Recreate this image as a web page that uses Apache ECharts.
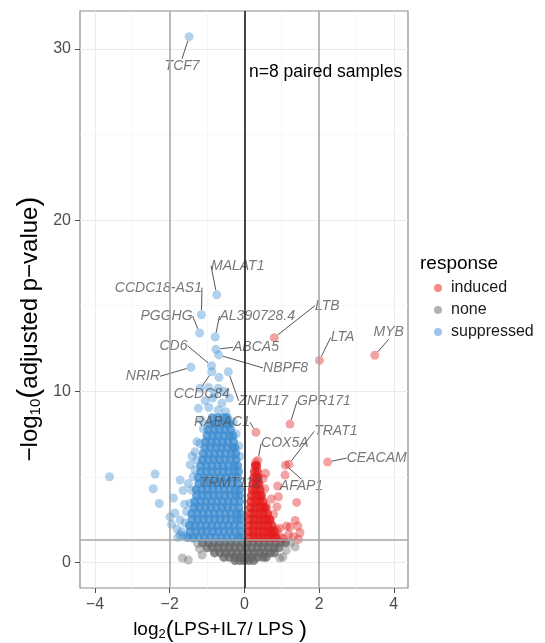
<!DOCTYPE html>
<html>
<head>
<meta charset="utf-8">
<script src="https://cdn.jsdelivr.net/npm/echarts@6/dist/echarts.min.js"></script>
<style>
  html, body { margin: 0; padding: 0; background: #ffffff; }
  #chart { width: 545px; height: 643px; }
</style>
</head>
<body>
<div id="chart"></div>
<script>
// ---- axis ticks and cut-offs ----
const xTicks = [-4, -2, 0, 2, 4];
const xMinorTicks = [-3, -1, 1, 3];
const yTicks = [0, 10, 20, 30];
const yMinorTicks = [5, 15, 25];
const foldCutoffs = [-2, 2];
const pCutoff = 1.3;            // -log10(0.05)

// ---- genes: log2 fold change, -log10 adjusted p ----
// suppressed, dense body of the cloud
const suppressedDense = [
  [-1.52,1.45],[-1.37,1.45],[-1.22,1.45],[-1.07,1.45],[-0.92,1.45],[-0.77,1.45],[-0.62,1.45],[-0.47,1.45],[-0.32,1.45],[-0.17,1.45],[-0.10,1.45],
  [-1.45,1.80],[-1.30,1.80],[-1.15,1.80],[-1.00,1.80],[-0.85,1.80],[-0.70,1.80],[-0.55,1.80],[-0.40,1.80],[-0.25,1.80],[-0.10,1.80],
  [-1.47,2.15],[-1.32,2.15],[-1.17,2.15],[-1.02,2.15],[-0.87,2.15],[-0.72,2.15],[-0.57,2.15],[-0.42,2.15],[-0.27,2.15],[-0.12,2.15],
  [-1.40,2.50],[-1.25,2.50],[-1.10,2.50],[-0.95,2.50],[-0.80,2.50],[-0.65,2.50],[-0.50,2.50],[-0.35,2.50],[-0.20,2.50],[-0.11,2.50],
  [-1.41,2.85],[-1.26,2.85],[-1.11,2.85],[-0.96,2.85],[-0.81,2.85],[-0.66,2.85],[-0.51,2.85],[-0.36,2.85],[-0.21,2.85],[-0.11,2.85],
  [-1.35,3.20],[-1.20,3.20],[-1.05,3.20],[-0.90,3.20],[-0.75,3.20],[-0.60,3.20],[-0.45,3.20],[-0.30,3.20],[-0.15,3.20],
  [-1.33,3.55],[-1.18,3.55],[-1.03,3.55],[-0.88,3.55],[-0.73,3.55],[-0.58,3.55],[-0.43,3.55],[-0.28,3.55],[-0.13,3.55],
  [-1.28,3.90],[-1.13,3.90],[-0.98,3.90],[-0.83,3.90],[-0.68,3.90],[-0.53,3.90],[-0.38,3.90],[-0.23,3.90],[-0.13,3.90],
  [-1.29,4.25],[-1.14,4.25],[-0.99,4.25],[-0.84,4.25],[-0.69,4.25],[-0.54,4.25],[-0.39,4.25],[-0.24,4.25],[-0.13,4.25],
  [-1.22,4.60],[-1.07,4.60],[-0.92,4.60],[-0.77,4.60],[-0.62,4.60],[-0.47,4.60],[-0.32,4.60],[-0.17,4.60],
  [-1.23,4.95],[-1.08,4.95],[-0.93,4.95],[-0.78,4.95],[-0.63,4.95],[-0.48,4.95],[-0.33,4.95],[-0.18,4.95],
  [-1.17,5.30],[-1.02,5.30],[-0.87,5.30],[-0.72,5.30],[-0.57,5.30],[-0.42,5.30],[-0.27,5.30],[-0.16,5.30],
  [-1.17,5.65],[-1.02,5.65],[-0.87,5.65],[-0.72,5.65],[-0.57,5.65],[-0.42,5.65],[-0.27,5.65],[-0.18,5.65],
  [-1.12,6.00],[-0.97,6.00],[-0.82,6.00],[-0.67,6.00],[-0.52,6.00],[-0.37,6.00],[-0.22,6.00],
  [-1.10,6.35],[-0.95,6.35],[-0.80,6.35],[-0.65,6.35],[-0.50,6.35],[-0.35,6.35],[-0.23,6.35],
  [-1.06,6.70],[-0.91,6.70],[-0.76,6.70],[-0.61,6.70],[-0.46,6.70],[-0.31,6.70],[-0.25,6.70],
  [-1.04,7.05],[-0.89,7.05],[-0.74,7.05],[-0.59,7.05],[-0.44,7.05],[-0.29,7.05],
  [-1.00,7.40],[-0.85,7.40],[-0.70,7.40],[-0.55,7.40],[-0.40,7.40],[-0.31,7.40],
  [-0.97,7.75],[-0.82,7.75],[-0.67,7.75],[-0.52,7.75],[-0.37,7.75],
  [-0.92,8.10],[-0.77,8.10],[-0.62,8.10],[-0.47,8.10],[-0.40,8.10],
  [-0.86,8.45],[-0.71,8.45],[-0.56,8.45],[-0.46,8.45]
];
// suppressed, scattered around the body
const suppressedSparse = [
  [-3.61,5.00],[-2.39,5.16],[-2.44,4.30],[-2.28,3.44],[-1.99,2.66],[-1.95,2.22],[-1.86,2.88],
  [-1.72,4.81],[-1.64,4.20],[-1.90,3.76],[-1.72,2.47],[-1.68,1.79],[-1.72,1.60],[-1.45,3.46],
  [-1.41,4.23],[-1.37,5.00],[-1.32,5.39],[-1.27,5.98],[-1.32,6.46],[-1.27,7.05],[-1.19,6.95],
  [-1.55,2.95],[-1.60,3.40],[-1.58,2.30],[-1.80,1.95],[-1.78,1.45],[-1.62,1.55],[-1.50,4.60],
  [-1.45,5.70],[-1.40,6.20],[-1.37,1.40],[-1.15,8.30],[-1.10,7.80],[-0.30,8.20],[-0.22,7.50],
  [-0.15,6.80],[-0.12,6.20],[-1.23,9.00],[-0.70,8.90],[-1.05,9.45],[-0.85,9.60],[-0.60,9.30],
  [-0.95,9.05],[-0.50,8.80],[-0.40,9.60],[-1.19,10.17],[-0.70,10.17],[-0.96,10.22],[-0.55,10.00],
  [-0.68,10.81],[-0.80,9.85]
];
const inducedDense = [
  [0.14,1.45],[0.26,1.45],[0.38,1.45],[0.50,1.45],[0.62,1.45],[0.74,1.45],[0.85,1.45],
  [0.13,1.80],[0.25,1.80],[0.37,1.80],[0.49,1.80],[0.61,1.80],[0.72,1.80],[0.80,1.80],
  [0.14,2.15],[0.26,2.15],[0.38,2.15],[0.50,2.15],[0.62,2.15],[0.74,2.15],
  [0.14,2.50],[0.26,2.50],[0.38,2.50],[0.50,2.50],[0.60,2.50],[0.68,2.50],
  [0.15,2.85],[0.27,2.85],[0.39,2.85],[0.51,2.85],[0.62,2.85],
  [0.16,3.20],[0.28,3.20],[0.40,3.20],[0.50,3.20],[0.56,3.20],
  [0.17,3.55],[0.29,3.55],[0.40,3.55],[0.50,3.55],
  [0.19,3.90],[0.30,3.90],[0.40,3.90],[0.46,3.90],
  [0.21,4.25],[0.31,4.25],[0.42,4.25],
  [0.23,4.60],[0.32,4.60],[0.39,4.60],
  [0.25,4.95],[0.33,4.95],[0.37,4.95],
  [0.27,5.30],[0.35,5.30],
  [0.29,5.65],[0.33,5.65]
];
const inducedSparse = [
  [0.57,5.20],[1.09,5.10],[0.89,4.46],[0.91,3.83],[1.40,3.50],[0.87,3.25],[0.60,3.25],
  [1.36,2.45],[1.13,2.12],[1.22,2.06],[1.43,2.12],[0.94,1.99],[1.49,1.73],[1.04,1.40],
  [1.45,1.34],[0.69,1.93],[0.69,2.47],[0.96,1.50],[1.31,1.50],[0.87,1.89],[0.78,2.80],
  [0.72,3.70],[0.55,4.30],[0.50,4.90],[0.82,1.45],[1.18,1.62]
];
const noneDense = [
  [-1.12,1.15],[-0.97,1.15],[-0.82,1.15],[-0.67,1.15],[-0.52,1.15],[-0.37,1.15],[-0.22,1.15],[-0.07,1.15],
  [0.08,1.15],[0.23,1.15],[0.38,1.15],[0.53,1.15],[0.68,1.15],[0.83,1.15],[0.98,1.15],[1.10,1.15],
  [-1.00,0.85],[-0.85,0.85],[-0.70,0.85],[-0.55,0.85],[-0.40,0.85],[-0.25,0.85],[-0.10,0.85],
  [0.05,0.85],[0.20,0.85],[0.35,0.85],[0.50,0.85],[0.65,0.85],[0.80,0.85],[0.92,0.85],
  [-0.80,0.55],[-0.65,0.55],[-0.50,0.55],[-0.35,0.55],[-0.20,0.55],[-0.05,0.55],
  [0.10,0.55],[0.25,0.55],[0.40,0.55],[0.55,0.55],[0.70,0.55],[0.80,0.55],
  [-0.55,0.30],[-0.40,0.30],[-0.25,0.30],[-0.10,0.30],[0.05,0.30],[0.20,0.30],[0.35,0.30],[0.50,0.30],[0.58,0.30],
  [-0.25,0.10],[-0.12,0.10],[0.00,0.10],[0.12,0.10],[0.25,0.10]
];
const noneSparse = [
  [-1.66,0.25],[-1.50,0.13],[-1.13,0.43],[1.03,0.31],[1.36,0.90],[-1.25,1.10],
  [1.24,1.15],[-1.20,0.80],[1.12,0.70],[0.95,0.25]
];

// named genes
const geneNames    = ['TCF7','MALAT1','CCDC18-AS1','PGGHG','AL390728.4','ABCA5','NBPF8','CD6','NRIR','CCDC84','ZNF117',
                      'LTB','LTA','MYB','GPR171','RABAC1','TRAT1','CEACAM','COX5A','TRMT112','AFAP1'];
const geneLog2FC   = [-1.48,-0.74,-1.15,-1.20,-0.78,-0.76,-0.69,-0.88,-1.43,-0.87,-0.43,
                      0.80,2.01,3.49,1.22,0.31,1.19,2.23,0.36,0.30,1.10];
const geneNegLogP  = [30.72,15.64,14.47,13.40,13.17,12.45,12.12,11.49,11.40,11.14,11.14,
                      13.13,11.80,12.10,8.08,7.60,5.73,5.86,5.95,5.85,5.68];
const geneResponse = ['suppressed','suppressed','suppressed','suppressed','suppressed','suppressed','suppressed',
                      'suppressed','suppressed','suppressed','suppressed',
                      'induced','induced','induced','induced','induced','induced','induced','induced','induced','induced'];

// where each gene label sits relative to its point (pixels)
const labelShift = {
  'TCF7': [-7, 29], 'MALAT1': [21, -29], 'CCDC18-AS1': [-43, -27], 'PGGHG': [-33, -17],
  'AL390728.4': [42, -21], 'ABCA5': [40, -2], 'NBPF8': [67, 13], 'CD6': [-38, -20],
  'NRIR': [-48, 9], 'CCDC84': [-10, 22], 'ZNF117': [35, 29], 'LTB': [53, -32],
  'LTA': [23, -23], 'MYB': [14, -23], 'GPR171': [34, -23], 'RABAC1': [-34, -10],
  'TRAT1': [47, -33], 'CEACAM': [49, -4], 'COX5A': [27, -17], 'TRMT112': [-25, 21],
  'AFAP1': [16, 21]
};

const FONT = '"Liberation Sans", Arial, Helvetica, sans-serif';
// base colours as r,g,b; drawn translucent so overlapping genes build up
const rgb = { induced: [228, 26, 28], none: [102, 102, 102], suppressed: [61, 139, 208] };
const legendColors = { induced: '#F18C8D', none: '#B3B3B3', suppressed: '#9EC5E8' };
const POINT = 9;
const rgba = (name, a) => 'rgba(' + rgb[name].join(',') + ',' + a + ')';

function namedGenes(group) {
  const out = [];
  geneNames.forEach((g, i) => {
    if (geneResponse[i] === group) {
      out.push({ name: g, value: [geneLog2FC[i], geneNegLogP[i]], label: { show: true } });
    }
  });
  return out;
}

const geneLabel = {
  show: false, position: 'inside', formatter: '{b}',
  color: '#555555', fontStyle: 'italic', fontSize: 14, fontFamily: FONT
};
const geneLabelLayout = p => {
  const s = labelShift[p.text];
  return s ? { dx: s[0], dy: s[1] } : {};
};

function pointSeries(name, data, alpha, withLabels) {
  const s = {
    name: name, type: 'scatter', data: data, symbol: 'circle', symbolSize: POINT,
    itemStyle: { color: rgba(name, alpha) }, z: 2, silent: true
  };
  if (withLabels) {
    s.label = geneLabel;
    s.labelLayout = geneLabelLayout;
    s.labelLine = { show: true, lineStyle: { color: '#555555', width: 1 } };
  }
  return s;
}

const gridLineData = []
  .concat(xTicks.map(v => ({ xAxis: v, lineStyle: { color: '#EBEBEB', width: 1 } })))
  .concat(xMinorTicks.map(v => ({ xAxis: v, lineStyle: { color: '#F3F3F3', width: 0.7 } })))
  .concat(yTicks.map(v => ({ yAxis: v, lineStyle: { color: '#EBEBEB', width: 1 } })))
  .concat(yMinorTicks.map(v => ({ yAxis: v, lineStyle: { color: '#F3F3F3', width: 0.7 } })));

const cutoffLineData = []
  .concat(foldCutoffs.map(v => ({ xAxis: v, lineStyle: { color: '#A6A6A6', width: 1.5 } })))
  .concat([{ yAxis: pCutoff, lineStyle: { color: '#A6A6A6', width: 1.5 } }])
  .concat([{ xAxis: 0, lineStyle: { color: '#1A1A1A', width: 1.6 } }]);

const minusFmt = v => String(v).replace('-', '\u2212');

const option = {
  animation: false,
  backgroundColor: '#ffffff',
  grid: { left: 80, top: 11, width: 328, height: 577, show: true, borderColor: '#8C8C8C', borderWidth: 1.2, backgroundColor: 'transparent' },
  xAxis: {
    type: 'value', min: -4.4, max: 4.38,
    axisLine: { show: false, onZero: false }, splitLine: { show: false },
    axisTick: { show: true, length: 5, lineStyle: { color: '#4D4D4D' }, customValues: xTicks },
    axisLabel: { customValues: xTicks, formatter: minusFmt, fontSize: 16, color: '#4D4D4D', fontFamily: FONT, margin: 9 }
  },
  yAxis: {
    type: 'value', min: -1.5, max: 32.22,
    axisLine: { show: false, onZero: false }, splitLine: { show: false },
    axisTick: { show: true, length: 5, lineStyle: { color: '#4D4D4D' }, customValues: yTicks },
    axisLabel: { customValues: yTicks, formatter: minusFmt, fontSize: 16, color: '#4D4D4D', fontFamily: FONT, margin: 9 }
  },
  legend: {
    data: ['induced', 'none', 'suppressed'].map(n => ({ name: n, itemStyle: { color: legendColors[n], opacity: 1 } })),
    orient: 'vertical', left: 434, top: 280, padding: 0,
    icon: 'circle', itemWidth: 16, itemHeight: 8, itemGap: 6,
    selectedMode: false,
    textStyle: { fontSize: 16, lineHeight: 16, color: '#1A1A1A', fontFamily: FONT }
  },
  graphic: [
    { type: 'text', left: 420, top: 254, z: 10, style: { text: 'response', fontSize: 19, fontFamily: FONT, fill: '#000' } },
    { type: 'text', x: 249, y: 72, z: 10, style: { text: 'n=8 paired samples', fontSize: 17.5, fontFamily: FONT, fill: '#000', align: 'left', verticalAlign: 'middle' } },
    {
      type: 'text', x: 220, y: 630, z: 10,
      style: {
        text: '{t|log}{s|2}{p|(}{t|LPS+IL7/ LPS }{p|)}', align: 'center', verticalAlign: 'middle',
        rich: {
          t: { fontSize: 19, fontFamily: FONT, fill: '#000' },
          s: { fontSize: 13, fontFamily: FONT, fill: '#000', padding: [9, 0, 0, 0] },
          p: { fontSize: 24, fontFamily: FONT, fill: '#000' }
        }
      }
    },
    {
      type: 'text', x: 30, y: 329, rotation: Math.PI / 2, z: 10,
      style: {
        text: '{t|\u2212log}{s|10}{p|(}{t|adjusted p\u2212value}{p|)}', align: 'center', verticalAlign: 'middle',
        rich: {
          t: { fontSize: 24, fontFamily: FONT, fill: '#000' },
          s: { fontSize: 15, fontFamily: FONT, fill: '#000', padding: [11, 0, 0, 0] },
          p: { fontSize: 30, fontFamily: FONT, fill: '#000' }
        }
      }
    }
  ],
  series: [
    {
      name: 'grid', type: 'scatter', data: [], z: 0, silent: true,
      markLine: { silent: true, symbol: ['none', 'none'], label: { show: false }, lineStyle: { type: 'solid' }, data: gridLineData, z: 0 }
    },
    pointSeries('none', noneDense, 0.95, false),
    pointSeries('none', noneSparse, 0.5, false),
    pointSeries('suppressed', suppressedDense, 0.95, false),
    pointSeries('suppressed', suppressedSparse.concat(namedGenes('suppressed')), 0.5, true),
    pointSeries('induced', inducedDense, 0.95, false),
    pointSeries('induced', inducedSparse.concat(namedGenes('induced')), 0.5, true),
    {
      name: 'cutoffs', type: 'scatter', data: [], z: 3, silent: true,
      markLine: { silent: true, symbol: ['none', 'none'], label: { show: false }, lineStyle: { type: 'solid' }, data: cutoffLineData, z: 3 }
    }
  ]
};

const chart = echarts.init(document.getElementById('chart'), null, { renderer: 'canvas' });
chart.setOption(option);
</script>
</body>
</html>
